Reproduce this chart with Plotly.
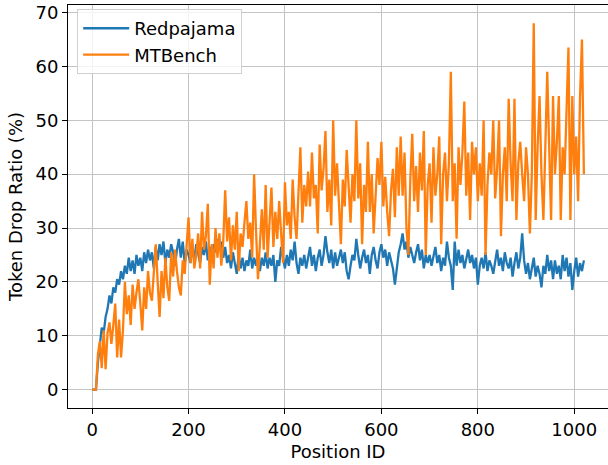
import plotly.graph_objects as go

# Position IDs (sampled every 4 positions)
positions = list(range(0, 1021, 4))

# Token drop ratio (%) per position
redpajama = [
    0, 0, 0, 5, 8, 11.5, 10.5, 13.5,
    15, 17.5, 16, 19, 18, 20.5, 19.5, 22,
    20.5, 23, 21.5, 24.5, 22, 24, 21.5, 25,
    23, 24.5, 22, 25.5, 23.5, 26, 24, 25.5,
    22.5, 26.5, 24, 27, 25, 27.5, 23.5, 26,
    24.5, 27, 25.5, 23, 26, 28, 24.5, 27.5,
    23.5, 26, 25, 23.5, 26.5, 24, 27, 25.5,
    23.5, 26.5, 25, 27.5, 24, 26.5, 24, 27,
    25.5, 28, 26, 27.5, 24.5, 26.5, 23.5, 25,
    22.5, 25.5, 23.5, 21.5, 25, 22.5, 24.5, 22,
    24, 23, 26, 22.5, 24.5, 23, 25, 22,
    24.5, 23, 25.5, 22.5, 24.5, 23, 25, 20,
    24, 23, 26.5, 24.5, 22.5, 25, 23, 26,
    24, 27.5, 23.5, 21.5, 24.5, 23, 25, 22.5,
    24.5, 26.5, 23, 25, 22, 24.5, 26, 23,
    25, 28.5, 25.5, 23.5, 26, 22.5, 25.5, 23,
    24.5, 26, 23.5, 25.5, 22, 20.5, 23, 25,
    24, 28, 25, 22.5, 24.5, 26, 23.5, 25,
    21.5, 25, 26.5, 24, 22.5, 25.5, 27, 24.5,
    26, 23, 25.5, 24, 22.5, 19.5, 23, 25.5,
    27, 29, 26, 27.5, 24.5, 26.5, 25, 23.5,
    25.5, 27, 24, 26, 22.5, 25, 23.5, 25,
    23, 24.5, 26.5, 23.5, 25, 22, 24.5, 23,
    27.5, 24.5, 23, 18.5, 27.5, 23, 26, 23.5,
    25, 22.5, 24, 26, 23.5, 25, 22.5, 24.5,
    19.5, 23, 24.5, 22.5, 25.5, 22, 24, 23,
    21.5, 23.5, 26, 23, 24.5, 22, 25.5, 23.5,
    22.5, 24.5, 21, 23.5, 25.5, 22.5, 24.5, 29,
    24, 21.5, 23.5, 20.5, 22.5, 24.5, 21, 23,
    21.5, 19, 23, 21.5, 25, 22, 24, 20.5,
    24, 21.5, 23, 20.5, 25, 22, 24.5, 21,
    23.5, 18.5, 22, 24.5, 21, 23.5, 22, 24,
]

mtbench = [
    0, 0, 0, 6.5, 9, 4, 11, 3.8,
    10.5, 12.5, 8.5, 12, 16, 6, 13, 6,
    11, 20, 14, 17.5, 12, 19.5, 15, 18,
    20.5, 16, 11, 19, 15, 22, 18, 16.5,
    22, 27, 20, 13.5, 22, 17, 24.5, 19,
    16.5, 25.5, 21, 26, 22, 19, 17.5, 24,
    21.5, 27, 32, 23.5, 28, 22.5, 25, 29,
    22.5, 33, 26, 28.5, 34.5, 19.5, 27, 22.5,
    30, 24.5, 29, 23, 27.5, 37, 27.5, 32,
    24, 30.5, 26, 33, 22, 29, 26.5, 31,
    35, 28, 31, 24.5, 40, 29.5, 20.5, 27,
    33.5, 26, 38, 24.5, 31, 37.5, 26.5, 33,
    28, 35, 29, 23.5, 38.5, 30.5, 33, 28,
    39, 32, 28, 36, 45, 31, 38, 34,
    40.5, 34, 44, 35.5, 38, 29, 45.5, 37,
    41, 48, 33, 39, 30.5, 50, 36, 42,
    33, 27, 39, 34, 44.5, 37, 31, 40,
    35, 50, 35.5, 42, 27, 38, 33, 46,
    33, 40, 29, 36, 43, 38, 46, 34,
    39.5, 33, 28.5, 37, 41, 32, 45, 36,
    47, 36, 44, 30, 25, 39, 47.5, 35,
    41.5, 33, 44, 37, 48, 25, 38, 42,
    31, 45, 36, 40, 47, 27, 40, 44,
    35, 42, 59, 35, 42, 28, 45, 38,
    44, 53.5, 36, 44, 31.5, 46, 40, 45,
    35, 42, 36, 50, 25, 38, 44, 40,
    50, 35.5, 41, 50, 28.5, 40, 45, 35,
    54, 42, 35, 54, 31.5, 42, 46, 40,
    35, 45, 40, 29, 40, 68, 31.5, 45,
    54.5, 40, 31.5, 45, 59, 45, 31.5, 54.5,
    40, 46, 54.5, 31.5, 45, 40, 54.5, 63.5,
    31.5, 54.5, 40, 47, 35, 54.5, 65, 40,
]

x_ticks = [0, 200, 400, 600, 800, 1000]
y_ticks = [0, 10, 20, 30, 40, 50, 60, 70]

FONT = "DejaVu Sans"

fig = go.Figure()
fig.add_trace(go.Scatter(x=positions, y=redpajama, mode="lines", name="Redpajama",
                         line=dict(color="#1f77b4", width=2.3)))
fig.add_trace(go.Scatter(x=positions, y=mtbench, mode="lines", name="MTBench",
                         line=dict(color="#ff7f0e", width=2.3)))

axis_common = dict(
    showline=True, linecolor="black", linewidth=1, mirror=True,
    showgrid=True, gridcolor="#c4c4c4", gridwidth=1.2,
    ticks="outside", ticklen=5, tickwidth=1, tickcolor="black",
    tickfont=dict(family=FONT, size=18, color="black"),
    zeroline=False,
)

fig.update_xaxes(range=[-50, 1070], tickvals=x_ticks,
                 title=dict(text="Position ID", font=dict(family=FONT, size=18, color="black"),
                            standoff=6),
                 **axis_common)
fig.update_yaxes(range=[-3.4, 71.4], tickvals=y_ticks,
                 title=dict(text="Token Drop Ratio (%)", font=dict(family=FONT, size=18, color="black"),
                            standoff=8),
                 **axis_common)

fig.update_layout(
    width=608, height=465,
    margin=dict(l=68, r=0, t=5, b=57),
    paper_bgcolor="white", plot_bgcolor="white",
    font=dict(family=FONT, size=18, color="black"),
    showlegend=True,
    legend=dict(x=0.017, y=0.99, xanchor="left", yanchor="top",
                bgcolor="rgba(255,255,255,0.8)", bordercolor="#d0d0d0", borderwidth=1,
                font=dict(family=FONT, size=18, color="black"),
                itemwidth=46, tracegroupgap=0),
    hovermode=False,
)

fig.write_html("out.html")
